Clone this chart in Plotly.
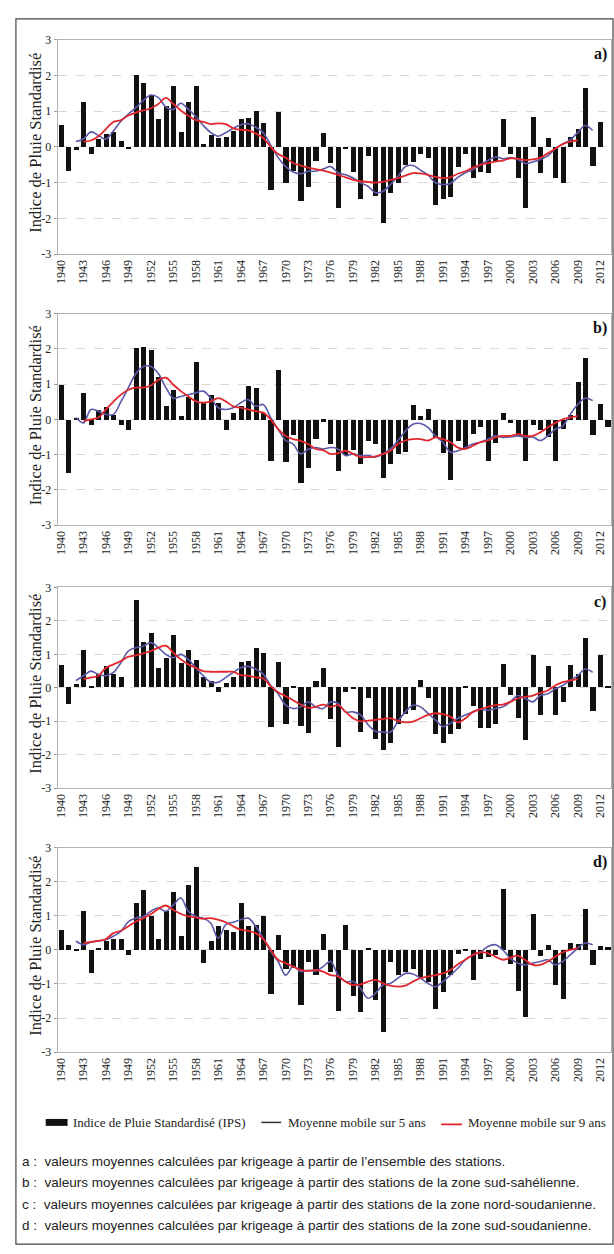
import plotly.graph_objects as go

# ---------------- data ----------------
years = list(range(1940, 2014))
years_ma5 = list(range(1942, 2012))
years_ma9 = list(range(1943, 2010))
tick_years = list(range(1940, 2013, 3))
y_ticks = [-3, -2, -1, 0, 1, 2, 3]
y_ticktext = ["-3", "-2", "-1", "0", "1", "2", "3"]
panel_labels = ["a)", "b)", "c)", "d)"]
legend_labels = ["Indice de Pluie Standardisé (IPS)", "Moyenne mobile sur 5 ans", "Moyenne mobile sur 9 ans"]

ips_a = [0.62, -0.65, -0.08, 1.28, -0.18, 0.22, 0.38, 0.42, 0.17, -0.04,
         2.02, 1.81, 1.45, 0.80, 1.15, 1.70, 0.43, 1.26, 1.72, 0.10,
         0.35, 0.25, 0.28, 0.45, 0.80, 0.82, 1.02, 0.68, -1.20, 0.98,
         -1.00, -0.65, -1.50, -1.10, -0.37, 0.40, -0.45, -1.70, -0.05, -0.70,
         -1.45, -0.25, -1.35, -2.12, -1.28, -1.00, -0.50, -0.40, -0.20, -0.30,
         -1.60, -1.45, -1.40, -0.55, -0.20, -0.85, -0.70, -0.73, -0.37, 0.80,
         -0.20, -0.85, -1.70, 0.85, -0.73, 0.26, -0.87, -0.99, 0.28, 0.52,
         1.67, -0.52, 0.70, 0.00]
ips_b = [1.00, -1.50, 0.05, 0.75, -0.15, 0.28, 0.35, 0.15, -0.15, -0.30,
         2.04, 2.07, 1.97, 1.20, 0.40, 0.85, 0.10, 0.65, 1.63, 0.47,
         0.70, 0.47, -0.28, 0.19, 0.40, 0.96, 0.89, 0.19, -1.17, 1.40,
         -1.20, -0.42, -1.80, -1.38, -0.55, -0.05, -0.70, -1.45, -1.00, -0.85,
         -1.26, -0.60, -0.70, -1.64, -1.26, -0.98, -0.90, 0.42, 0.10, 0.30,
         -0.50, -0.93, -1.70, -0.60, -0.84, -0.40, -0.20, -1.17, -0.65, 0.18,
         -0.10, -0.45, -1.17, -0.15, -0.30, -0.50, -1.17, -0.25, 0.15, 1.07,
         1.75, -0.42, 0.44, -0.20]
ips_c = [0.66, -0.50, 0.09, 1.12, 0.02, 0.40, 0.64, 0.40, 0.31, 0.00,
         2.60, 1.36, 1.64, 0.58, 0.88, 1.57, 0.73, 1.12, 0.83, 0.31,
         0.19, -0.13, 0.12, 0.31, 0.75, 0.80, 1.18, 1.04, -1.19, 0.75,
         -1.09, 0.04, -1.16, -1.36, 0.20, 0.58, -0.96, -1.77, -0.13, -0.03,
         -1.33, -0.32, -1.55, -1.87, -1.65, -1.10, -0.81, -0.67, 0.22, -0.32,
         -1.38, -1.65, -1.38, -1.25, 0.02, -0.57, -1.20, -1.22, -1.09, 0.70,
         -0.22, -0.91, -1.58, 0.97, -0.84, 0.64, -0.84, -0.44, 0.66, 0.41,
         1.49, -0.70, 0.97, 0.05]
ips_d = [0.59, 0.15, 0.05, 1.16, -0.66, 0.08, 0.26, 0.34, 0.34, -0.13,
         1.39, 1.78, 1.00, 0.34, 1.15, 1.70, 0.42, 1.93, 2.45, -0.37,
         0.26, 0.70, 0.60, 0.55, 1.40, 0.70, 0.75, 1.02, -1.28, 0.45,
         -0.55, -0.52, -1.60, -0.35, -0.73, 0.49, -0.64, -1.78, 0.75, -1.34,
         -1.81, 0.07, -1.47, -2.40, -0.34, -0.73, -0.62, -0.54, -0.78, -0.93,
         -1.71, -1.22, -0.73, -0.10, 0.05, -0.88, -0.25, -0.20, -0.13, 1.79,
         -0.39, -1.20, -1.96, 1.08, -0.17, 0.15, -1.03, -1.42, 0.23, 0.20,
         1.20, -0.44, 0.13, 0.09]

ma5_a = [0.15, 0.22, 0.42, 0.32, 0.22, 0.45, 0.72, 0.92, 1.10, 1.30,
         1.45, 1.38, 1.12, 1.05, 1.22, 1.05, 0.85, 0.60, 0.40, 0.30,
         0.40, 0.52, 0.62, 0.65, 0.55, 0.40, 0.05, -0.30, -0.55, -0.70,
         -0.75, -0.68, -0.68, -0.62, -0.55, -0.72, -0.78, -0.87, -1.00, -1.10,
         -1.28, -1.24, -1.05, -0.82, -0.55, -0.52, -0.65, -0.78, -1.00, -1.05,
         -1.02, -0.85, -0.72, -0.64, -0.50, -0.38, -0.28, -0.33, -0.30, -0.35,
         -0.46, -0.42, -0.35, -0.25, -0.05, 0.08, 0.20, 0.40, 0.60, 0.46]
ma9_a = [0.15, 0.18, 0.30, 0.50, 0.70, 0.75, 0.88, 0.96, 1.02, 1.08,
         1.20, 1.37, 1.20, 1.02, 0.87, 0.75, 0.70, 0.64, 0.66, 0.64,
         0.52, 0.48, 0.46, 0.38, 0.25, 0.00, -0.20, -0.30, -0.45, -0.52,
         -0.58, -0.62, -0.66, -0.72, -0.78, -0.85, -0.92, -0.96, -0.98, -1.00,
         -0.98, -0.92, -0.87, -0.80, -0.73, -0.74, -0.78, -0.84, -0.87, -0.85,
         -0.75, -0.68, -0.58, -0.50, -0.45, -0.41, -0.38, -0.32, -0.33, -0.37,
         -0.35, -0.30, -0.18, -0.05, 0.08, 0.15, 0.18]

ma5_b = [0.05, -0.10, 0.28, 0.23, 0.14, 0.14, 0.50, 0.90, 1.30, 1.50,
         1.50, 1.30, 0.90, 0.60, 0.65, 0.70, 0.75, 0.80, 0.60, 0.33,
         0.28, 0.33, 0.47, 0.56, 0.37, 0.42, 0.05, -0.28, -0.60, -0.70,
         -0.98, -0.85, -0.80, -0.84, -0.80, -0.84, -1.03, -0.98, -1.03, -1.03,
         -1.07, -0.98, -0.84, -0.60, -0.33, -0.14, -0.12, -0.23, -0.47, -0.65,
         -0.93, -0.89, -0.80, -0.70, -0.65, -0.56, -0.47, -0.51, -0.50, -0.47,
         -0.51, -0.50, -0.60, -0.47, -0.28, -0.19, 0.14, 0.42, 0.60, 0.53]
ma9_b = [-0.05, 0.00, 0.05, 0.28, 0.50, 0.70, 0.84, 0.90, 0.90, 0.96,
         1.12, 1.18, 0.98, 0.80, 0.65, 0.51, 0.47, 0.51, 0.60, 0.51,
         0.37, 0.33, 0.28, 0.23, 0.19, 0.00, -0.28, -0.47, -0.56, -0.61,
         -0.70, -0.84, -0.87, -0.98, -0.96, -0.89, -0.98, -1.07, -1.07, -1.05,
         -0.98, -0.89, -0.70, -0.60, -0.56, -0.56, -0.60, -0.51, -0.56, -0.65,
         -0.80, -0.84, -0.75, -0.65, -0.60, -0.51, -0.47, -0.47, -0.42, -0.47,
         -0.47, -0.37, -0.23, -0.10, 0.00, 0.05, 0.09]

ma5_c = [0.22, 0.36, 0.50, 0.40, 0.36, 0.46, 0.75, 1.10, 1.20, 1.25,
         1.35, 1.20, 1.00, 0.90, 1.00, 0.85, 0.60, 0.36, 0.17, 0.17,
         0.31, 0.46, 0.60, 0.64, 0.56, 0.41, 0.07, -0.18, -0.52, -0.62,
         -0.57, -0.42, -0.57, -0.62, -0.42, -0.47, -0.72, -0.72, -0.81, -1.10,
         -1.30, -1.32, -1.32, -1.00, -0.72, -0.52, -0.57, -0.76, -0.96, -1.16,
         -1.06, -0.91, -0.81, -0.72, -0.64, -0.67, -0.62, -0.57, -0.42, -0.23,
         -0.32, -0.42, -0.23, -0.18, -0.03, 0.07, 0.22, 0.36, 0.56, 0.46]
ma9_c = [0.26, 0.31, 0.36, 0.60, 0.70, 0.80, 0.93, 0.97, 1.03, 1.10,
         1.20, 1.26, 1.05, 0.85, 0.70, 0.60, 0.50, 0.48, 0.48, 0.48,
         0.48, 0.38, 0.36, 0.31, 0.28, 0.05, -0.13, -0.25, -0.37, -0.50,
         -0.60, -0.57, -0.50, -0.57, -0.52, -0.72, -0.91, -1.00, -0.98, -0.96,
         -0.93, -0.91, -0.99, -1.03, -1.01, -0.91, -0.81, -0.76, -0.79, -0.86,
         -1.03, -0.91, -0.72, -0.64, -0.57, -0.52, -0.50, -0.42, -0.32, -0.27,
         -0.23, -0.15, -0.08, 0.07, 0.17, 0.22, 0.26]

ma5_d = [0.26, 0.15, 0.23, 0.26, 0.30, 0.40, 0.54, 0.83, 0.93, 0.98,
         1.13, 1.23, 1.13, 1.32, 1.52, 1.13, 0.98, 0.93, 0.78, 0.34,
         0.74, 0.81, 0.88, 0.93, 0.69, 0.34, -0.05, -0.34, -0.74, -0.49,
         -0.64, -0.60, -0.62, -0.49, -0.34, -0.74, -0.93, -0.93, -1.13, -1.42,
         -1.27, -1.03, -0.98, -0.83, -0.69, -0.71, -0.83, -0.98, -1.08, -0.93,
         -0.74, -0.54, -0.29, -0.15, -0.07, 0.10, 0.15, 0.00, -0.25, -0.39,
         -0.44, -0.39, -0.34, -0.29, -0.44, -0.34, -0.15, 0.05, 0.20, 0.15]
ma9_d = [0.20, 0.23, 0.26, 0.32, 0.49, 0.56, 0.69, 0.83, 0.93, 1.05,
         1.20, 1.30, 1.17, 1.05, 0.98, 0.95, 0.91, 0.93, 0.88, 0.81,
         0.69, 0.59, 0.56, 0.49, 0.32, 0.00, -0.29, -0.39, -0.49, -0.59,
         -0.62, -0.59, -0.64, -0.74, -0.78, -0.93, -1.03, -1.01, -0.93, -0.88,
         -0.98, -1.05, -1.08, -1.05, -0.93, -0.83, -0.78, -0.74, -0.69, -0.59,
         -0.42, -0.29, -0.15, -0.07, -0.10, -0.20, -0.29, -0.23, -0.17, -0.30,
         -0.44, -0.44, -0.34, -0.20, -0.07, 0.00, 0.05]

captions = [
    "a :  valeurs moyennes calculées par krigeage à partir de l’ensemble des stations.",
    "b :  valeurs moyennes calculées par krigeage à partir des stations de la zone sud-sahélienne.",
    "c :  valeurs moyennes calculées par krigeage à partir des stations de la zone nord-soudanienne.",
    "d :  valeurs moyennes calculées par krigeage à partir des stations de la zone sud-soudanienne.",
]

# ---------------- layout helpers ----------------
W, H = 614, 1254
SERIF = "Liberation Serif, Times New Roman, serif"
SANS = "Liberation Sans, Arial, sans-serif"
BAR_COLOR = "#111111"
MA5_COLOR = "#5a58a8"
MA9_COLOR = "#e3262b"

def px(x):
    return x / W

def py(y):
    return 1 - y / H

panel_px = [(33, 250), (310, 524), (587, 790), (850, 1057)]
x_left, x_right = 54, 611

ips_all = [ips_a, ips_b, ips_c, ips_d]
ma5_all = [ma5_a, ma5_b, ma5_c, ma5_d]
ma9_all = [ma9_a, ma9_b, ma9_c, ma9_d]

fig = go.Figure()
annotations = []
shapes = []
layout_axes = {}

for i in range(4):
    sfx = "" if i == 0 else str(i + 1)
    xref = "x" + sfx
    yref = "y" + sfx
    fig.add_trace(go.Bar(x=years, y=ips_all[i], xaxis=xref, yaxis=yref,
                         marker=dict(color=BAR_COLOR, line=dict(width=0)),
                         width=0.68, name=legend_labels[0], showlegend=False))
    fig.add_trace(go.Scatter(x=years_ma5, y=ma5_all[i], xaxis=xref, yaxis=yref,
                             mode="lines", line=dict(color=MA5_COLOR, width=1.6, shape="spline"),
                             name=legend_labels[1], showlegend=False))
    fig.add_trace(go.Scatter(x=years_ma9, y=ma9_all[i], xaxis=xref, yaxis=yref,
                             mode="lines", line=dict(color=MA9_COLOR, width=1.8, shape="spline"),
                             name=legend_labels[2], showlegend=False))
    top, bot = panel_px[i]
    layout_axes["xaxis" + sfx] = dict(
        domain=[px(x_left), px(x_right)], range=[1939.55, 2013.45],
        anchor=yref, tickmode="array", tickvals=tick_years,
        ticktext=[str(t) for t in tick_years], tickangle=-90,
        tickfont=dict(family=SERIF, size=12, color="#222"),
        showline=True, mirror=True, linecolor="#b4b4b4", linewidth=1,
        showgrid=False, zeroline=False, ticks="", fixedrange=True)
    layout_axes["yaxis" + sfx] = dict(
        domain=[py(bot), py(top)], range=[-3, 3], anchor=xref,
        tickmode="array", tickvals=y_ticks, ticktext=y_ticktext,
        tickfont=dict(family=SERIF, size=12, color="#222"),
        showline=True, mirror=True, linecolor="#b4b4b4", linewidth=1,
        showgrid=True, gridcolor="#dcd6d6", griddash="dash", gridwidth=1,
        zeroline=False, ticks="outside", ticklen=3, tickcolor="#999",
        fixedrange=True)
    annotations.append(dict(
        text="Indice de Pluie Standardisé", textangle=-90, showarrow=False,
        xref="paper", yref="paper", x=px(32), y=py((top + bot) / 2 - 4),
        xanchor="center", yanchor="middle",
        font=dict(family=SERIF, size=16.5, color="#222")))
    annotations.append(dict(
        text="<b>" + panel_labels[i] + "</b>", showarrow=False,
        xref="paper", yref="paper", x=px(600), y=py(top + 15),
        xanchor="center", yanchor="middle",
        font=dict(family=SERIF, size=16, color="#111")))

# ---- legend (drawn as keys + labels below the last panel) ----
leg_y = 1128
shapes.append(dict(type="rect", xref="paper", yref="paper",
                   x0=px(42), x1=px(64), y0=py(leg_y + 3.5), y1=py(leg_y - 3.5),
                   fillcolor=BAR_COLOR, line=dict(width=0)))
shapes.append(dict(type="line", xref="paper", yref="paper",
                   x0=px(259), x1=px(279), y0=py(leg_y), y1=py(leg_y),
                   line=dict(color="#333", width=1.5)))
shapes.append(dict(type="line", xref="paper", yref="paper",
                   x0=px(440), x1=px(461), y0=py(leg_y + 2), y1=py(leg_y + 2),
                   line=dict(color=MA9_COLOR, width=1.8)))
for lx, lab in zip([67, 284, 465], legend_labels):
    annotations.append(dict(
        text=lab, showarrow=False, xref="paper", yref="paper",
        x=px(lx), y=py(leg_y), xanchor="left", yanchor="middle",
        font=dict(family=SERIF, size=13, color="#222")))

caption_y = [1168, 1189, 1211, 1232]
for txt, cy in zip(captions, caption_y):
    annotations.append(dict(
        text=txt, showarrow=False, xref="paper", yref="paper",
        x=px(16), y=py(cy), xanchor="left", yanchor="middle",
        font=dict(family=SANS, size=13.5, color="#222")))

shapes.append(dict(type="rect", xref="paper", yref="paper",
                   x0=px(12), x1=px(613), y0=py(1251), y1=py(12),
                   line=dict(color="#444", width=1.2)))

fig.update_layout(
    width=W, height=H, margin=dict(l=0, r=0, t=0, b=0),
    paper_bgcolor="white", plot_bgcolor="white", bargap=0,
    showlegend=False,
    annotations=annotations,
    shapes=shapes,
    **layout_axes)

fig.write_html("out.html", config={"displayModeBar": False})
